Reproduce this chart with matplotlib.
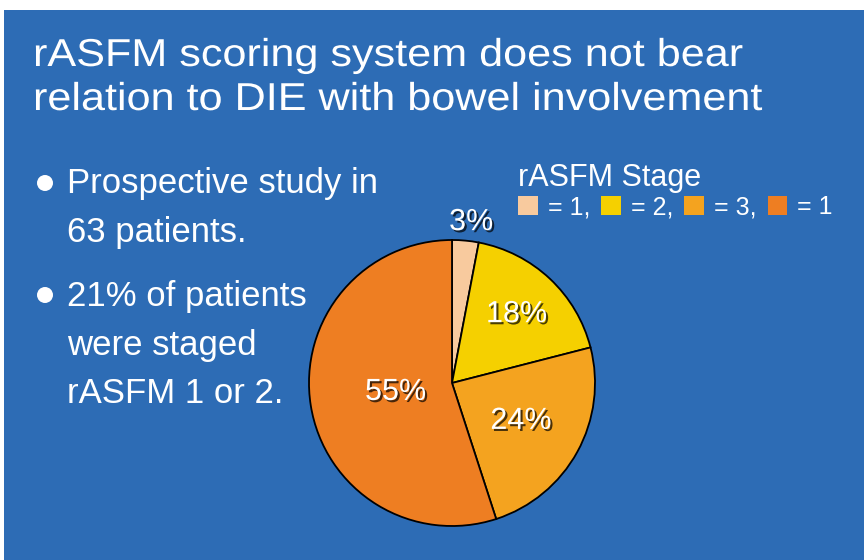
import matplotlib
matplotlib.use("Agg")
import matplotlib.pyplot as plt
import matplotlib.patheffects as pe
from matplotlib.patches import Rectangle, Circle, Patch
from matplotlib.transforms import Affine2D
import numpy as np

# ---- data ----
title_lines = ["rASFM scoring system does not bear",
               "relation to DIE with bowel involvement"]
bullets = [["Prospective study in", "63 patients."],
           ["21% of patients", "were staged", "rASFM 1 or 2."]]
stage_labels = ["= 1,", "= 2,", "= 3,", "= 1"]
stage_values = [3, 18, 24, 55]
legend_title = "rASFM Stage"

# ---- style ----
W, H = 864, 560
BLUE = "#2D6CB5"
colors = ["#F8CA9E", "#F5D000", "#F4A31F", "#EE7E22"]
label_dist = [1.13, 0.66, 0.55, 0.40]
FONT = "Liberation Sans"


class StretchX(pe.AbstractPathEffect):
    """Widen glyphs horizontally about the text's left baseline origin."""
    def __init__(self, sx):
        super().__init__()
        self.sx = sx

    def draw_path(self, renderer, gc, tpath, affine, rgbFace=None):
        x0 = affine.transform(np.array([[0.0, 0.0]]))[0, 0]
        aff = affine + Affine2D().translate(-x0, 0).scale(self.sx, 1).translate(x0, 0)
        renderer.draw_path(gc, tpath, aff, rgbFace)


fig = plt.figure(figsize=(W / 100, H / 100), dpi=100, facecolor="white")
ax = fig.add_axes([0, 0, 1, 1])
Y = lambda y: H - y

ax.add_patch(Rectangle((4, 0), W - 4, H - 10, facecolor=BLUE, edgecolor="none", zorder=0))

# title
for i, line in enumerate(title_lines):
    ax.text(33, Y(66 + 44 * i), line, color="white", fontsize=28, family=FONT,
            ha="left", va="baseline", zorder=3, path_effects=[StretchX(1.11)])

# bullets
bl_y = [[193, 242], [306, 355, 403]]
dot_y = [183, 295]
for b, lines in enumerate(bullets):
    ax.add_patch(Circle((45, Y(dot_y[b])), 8, facecolor="white", edgecolor="none", zorder=3))
    for j, line in enumerate(lines):
        ax.text(67, Y(bl_y[b][j]), line, color="white", fontsize=25, family=FONT,
                ha="left", va="baseline", zorder=3)

# pie
cx, cy, r = 452, Y(383), 143
wedges, _ = ax.pie(stage_values, colors=colors, startangle=90, counterclock=False,
                   center=(cx, cy), radius=r, frame=True,
                   wedgeprops=dict(edgecolor="black", linewidth=1.3))
shadow = [pe.SimplePatchShadow(offset=(1.5, -1.5), shadow_rgbFace="black", alpha=0.7), pe.Normal()]
for w, v, d in zip(wedges, stage_values, label_dist):
    ang = np.deg2rad((w.theta1 + w.theta2) / 2)
    ax.text(cx + d * r * np.cos(ang) + (4 if d > 1 else 0), cy + d * r * np.sin(ang), f"{v}%",
            color="white", fontsize=22, family=FONT,
            ha="center", va="center", path_effects=shadow, zorder=4)

# legend
ax.text(518, Y(186), legend_title, color="white", fontsize=22, family=FONT,
        ha="left", va="baseline", zorder=3)
handles = [Patch(facecolor=c, edgecolor="none") for c in colors]
leg = ax.legend(handles, stage_labels, ncol=4, loc="center left",
                bbox_to_anchor=(518 / W, 1 - 207 / H), bbox_transform=fig.transFigure,
                frameon=False, borderpad=0, borderaxespad=0,
                prop=dict(family=FONT, size=18), labelcolor="white",
                handlelength=0.78, handleheight=0.78, handletextpad=0.4,
                columnspacing=0.45)

ax.set_xlim(0, W)
ax.set_ylim(0, H)
ax.set_aspect("auto")
ax.axis("off")

fig.savefig("out.png", dpi=100, facecolor="white")
